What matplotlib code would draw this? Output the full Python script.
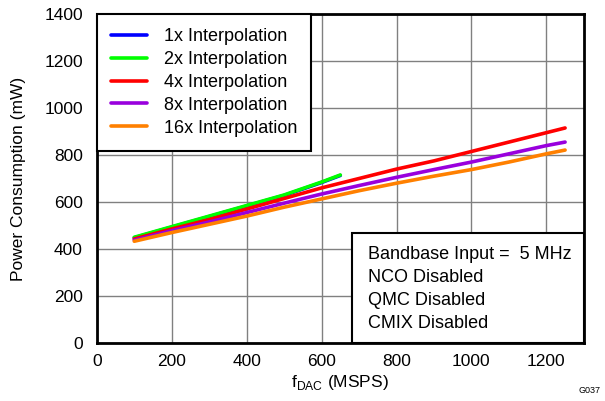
import matplotlib
matplotlib.use("Agg")
import matplotlib.pyplot as plt
from matplotlib.patches import Rectangle

plt.rcParams["font.family"] = ["Liberation Sans", "DejaVu Sans"]

# f_DAC (MSPS) and power consumption (mW)
fdac_low = [100, 200, 300, 400, 500, 600, 650]
p_1x = [448, 493, 538, 583, 628, 683, 713]
p_2x = [450, 495, 540, 585, 630, 685, 715]

fdac = [100, 200, 300, 400, 500, 600, 700, 800, 900, 1000, 1100, 1200, 1250]
p_4x = [443, 485, 525, 570, 615, 660, 700, 740, 775, 815, 855, 895, 915]
p_8x = [438, 478, 515, 555, 595, 634, 670, 705, 738, 770, 805, 840, 855]
p_16x = [433, 470, 505, 540, 578, 613, 648, 680, 710, 738, 770, 805, 821]

labels = ["1x Interpolation", "2x Interpolation", "4x Interpolation",
          "8x Interpolation", "16x Interpolation"]
colors = ["#0000ff", "#00ff00", "#ff0000", "#9900dd", "#ff8000"]

fs = 12.5
fs_box = 13

fig = plt.figure(figsize=(6.05, 4.01), dpi=100)
ax = fig.add_axes([0.160, 0.1446, 0.805, 0.8205])

series = [(fdac_low, p_1x), (fdac_low, p_2x), (fdac, p_4x), (fdac, p_8x), (fdac, p_16x)]
for (x, y), c, lab in zip(series, colors, labels):
    ax.plot(x, y, color=c, lw=2.6, label=lab, solid_capstyle="round")

ax.set_xlim(0, 1300)
ax.set_ylim(0, 1400)
ax.set_xticks(range(0, 1300, 200))
ax.set_yticks(range(0, 1401, 200))
ax.grid(True, color="#808080", lw=1)
ax.tick_params(length=0, labelsize=fs)
ax.tick_params(axis="y", pad=10)
ax.tick_params(axis="x", pad=8)
for s in ax.spines.values():
    s.set_linewidth(2)
    s.set_color("black")

ax.set_xlabel("f$_{\\mathregular{DAC}}$ (MSPS)", fontsize=fs, labelpad=3)
ax.set_ylabel("Power Consumption (mW)", fontsize=fs, labelpad=13)

leg = ax.legend(loc="upper left", borderaxespad=0, fontsize=fs_box, fancybox=False,
                framealpha=1, edgecolor="black", handlelength=2.0,
                labelspacing=0.32, handletextpad=0.9, borderpad=0.8)
leg.get_frame().set_linewidth(1.5)
for h in leg.get_lines():
    h.set_linewidth(2.6)

box = Rectangle((0.524, 0), 0.476, 0.334, transform=ax.transAxes,
                facecolor="white", edgecolor="black", lw=1.5, zorder=3)
ax.add_patch(box)
ax.text(0.557, 0.164, "Bandbase Input =  5 MHz\nNCO Disabled\nQMC Disabled\nCMIX Disabled",
        transform=ax.transAxes, fontsize=fs_box, va="center", ha="left",
        linespacing=1.46, zorder=4)

fig.text(0.992, 0.015, "G037", fontsize=6.5, ha="right", va="bottom")

fig.savefig("out.png", dpi=100)
